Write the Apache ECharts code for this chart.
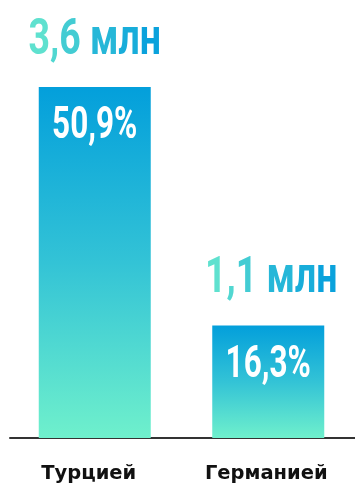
<!DOCTYPE html>
<html><head><meta charset="utf-8">
<script src="https://cdn.jsdelivr.net/npm/echarts@6/dist/echarts.min.js"></script>
<style>html,body{margin:0;padding:0;background:#fff}#c{width:355px;height:484px}</style>
</head><body><div id="c"></div>
<script>
const categories = ['Турцией', 'Германией'];
const shares = [50.9, 16.3];
const shareLabels = ['50,9%', '16,3%'];
const totalLabels = ['3,6 млн', '1,1 млн'];

const chart = echarts.init(document.getElementById('c'), null, {renderer: 'canvas'});
const barGrad = new echarts.graphic.LinearGradient(0, 0, 0, 1, [
  {offset: 0, color: '#039fdb'},
  {offset: 0.5, color: '#33c3d6'},
  {offset: 1, color: '#6ff0cc'}
]);
const BAR_W = 112;
const TOTAL_FONT = 'bold 50px Roboto';

// horizontal teal -> blue gradient, applied character by character through rich text
function lerpColor(a, b, t) {
  const pa = [1, 3, 5].map(k => parseInt(a.substr(k, 2), 16));
  const pb = [1, 3, 5].map(k => parseInt(b.substr(k, 2), 16));
  return 'rgb(' + pa.map((v, k) => Math.round(v + (pb[k] - v) * t)).join(',') + ')';
}
function gradientRich(str) {
  const chars = Array.from(str);
  const rich = {};
  let text = '';
  chars.forEach((ch, k) => {
    const key = 'c' + k;
    rich[key] = {fill: lerpColor('#5fe1cf', '#0aa2dc', k / (chars.length - 1)), font: TOTAL_FONT};
    text += '{' + key + '|' + ch + '}';
  });
  return {text, rich};
}

function renderItem(params, api) {
  const i = api.value(0);
  const v = api.value(1);
  const top = api.coord([i, v]);
  const base = api.coord([i, 0]);
  const g = gradientRich(totalLabels[i]);
  return {
    type: 'group',
    children: [
      {type: 'rect', shape: {x: top[0] - BAR_W / 2, y: top[1], width: BAR_W, height: base[1] - top[1]},
       style: {fill: barGrad}},
      {type: 'text', x: top[0], y: top[1] + 40, scaleX: 0.7,
       style: {text: shareLabels[i], fill: '#fff', font: 'bold 45px Roboto', align: 'center', verticalAlign: 'middle'}},
      {type: 'text', x: top[0] + (i === 1 ? 3 : 0), y: top[1] - 46, scaleX: 0.75,
       style: {text: g.text, rich: g.rich, font: TOTAL_FONT, align: 'center', verticalAlign: 'middle'}}
    ]
  };
}

chart.setOption({
  animation: false,
  grid: [
    {left: 8, right: -5, top: 87, bottom: 46},
    {left: 10, right: 0, top: 87, bottom: 46},
    {left: -1.5, right: -9.5, top: 87, bottom: 46}
  ],
  xAxis: [
    {type: 'category', gridIndex: 0, data: categories, show: false},
    {type: 'category', gridIndex: 1, data: categories,
     axisLine: {show: true, lineStyle: {color: '#333', width: 2}}, axisTick: {show: false}, axisLabel: {show: false}},
    {type: 'category', gridIndex: 2, data: categories,
     axisLine: {show: false}, axisTick: {show: false},
     axisLabel: {color: '#111', fontFamily: '"DejaVu Sans", sans-serif', fontWeight: 'bold', fontSize: 19.5, margin: 31}}
  ],
  yAxis: [0, 1, 2].map(g => ({type: 'value', gridIndex: g, min: 0, max: 50.9, show: false, splitLine: {show: false}})),
  series: [
    {type: 'custom', xAxisIndex: 0, yAxisIndex: 0, renderItem: renderItem,
     data: shares.map((v, i) => [i, v]), encode: {x: 0, y: 1}, clip: false}
  ]
});
</script></body></html>
